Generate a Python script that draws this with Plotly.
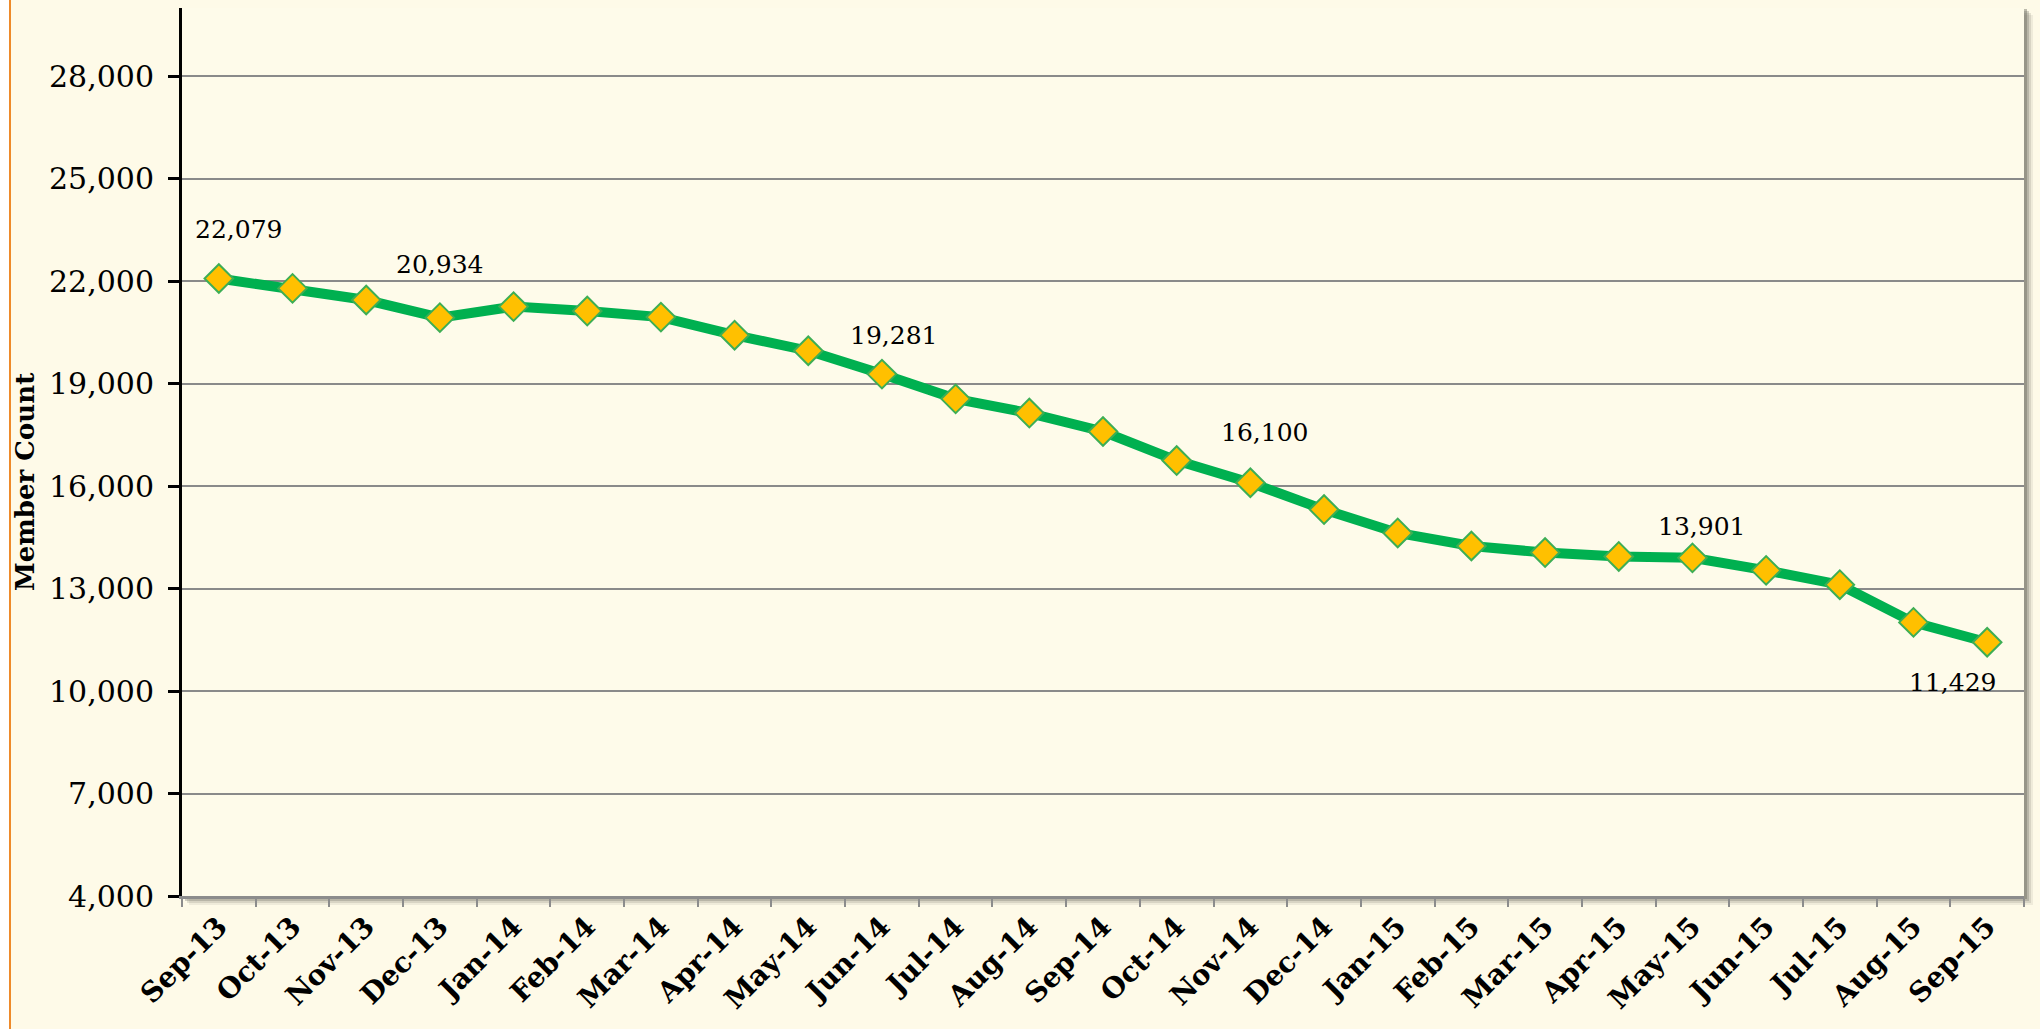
import plotly.graph_objects as go

months = ["Sep-13", "Oct-13", "Nov-13", "Dec-13", "Jan-14", "Feb-14", "Mar-14", "Apr-14",
          "May-14", "Jun-14", "Jul-14", "Aug-14", "Sep-14", "Oct-14", "Nov-14", "Dec-14",
          "Jan-15", "Feb-15", "Mar-15", "Apr-15", "May-15", "Jun-15", "Jul-15", "Aug-15", "Sep-15"]
members = [22079, 21790, 21450, 20934, 21257, 21127, 20950, 20420,
           19965, 19281, 18556, 18140, 17600, 16750, 16100, 15314,
           14630, 14247, 14056, 13942, 13901, 13535, 13115, 12011, 11429]
y_ticks = [4000, 7000, 10000, 13000, 16000, 19000, 22000, 25000, 28000]
y_title = "Member Count"
labeled_idx = [0, 3, 9, 14, 20, 24]
label_shift = [(20, 49), (0, 53), (12, 39), (14, 50), (9, 31), (-35, -40)]

W_PX, H_PX = 2040, 1029
M_L, M_R, M_T, M_B = 182, 16, 8, 133
PW = W_PX - M_L - M_R
PH = H_PX - M_T - M_B

CREAM = "#FEFAE8"
PLOT_BG = "#FEFBEA"
GREEN = "#00B050"
GOLD = "#FFC000"

fig = go.Figure()
fig.add_trace(go.Scatter(
    x=months, y=members, mode="lines+markers",
    line=dict(color=GREEN, width=10),
    marker=dict(symbol="diamond", size=22, color=GOLD, line=dict(color="#3DAE55", width=2)),
    hoverinfo="skip", showlegend=False,
))

for (i, (dx, dy)) in zip(labeled_idx, label_shift):
    fig.add_annotation(x=months[i], y=members[i], xref="x", yref="y",
                       text=f"{members[i]:,}", showarrow=False,
                       xshift=dx, yshift=dy,
                       font=dict(family="DejaVu Serif", size=25, color="#000000"))

def px_x(p):
    return p / PW

def px_y(p):
    return p / PH

# y-axis title placed like the original (slightly below the plot centre)
fig.add_annotation(xref="paper", yref="paper", x=px_x(25 - M_L), y=px_y(896 - 482),
                   text=f"<b>{y_title}</b>", textangle=-90, showarrow=False,
                   xanchor="center", yanchor="middle",
                   font=dict(family="DejaVu Serif", size=26, color="#000000"))

shapes = []
# white strip at far left and orange border line
shapes.append(dict(type="rect", xref="paper", yref="paper", layer="below",
                   x0=px_x(-M_L - 5), x1=px_x(-M_L + 9), y0=px_y(-M_B - 5), y1=px_y(PH + M_T + 5),
                   fillcolor="#FFFFFF", line=dict(width=0)))
shapes.append(dict(type="rect", xref="paper", yref="paper", layer="below",
                   x0=px_x(-M_L + 9), x1=px_x(-M_L + 11), y0=px_y(-M_B - 5), y1=px_y(PH + M_T + 5),
                   fillcolor="#EE8A2A", line=dict(width=0)))
# soft shadow for plot area
for off, op in [(9, 0.10), (7, 0.18), (5, 0.30), (3, 0.45)]:
    shapes.append(dict(type="rect", xref="paper", yref="paper", layer="below",
                       x0=px_x(off - 2), x1=px_x(PW + off), y0=px_y(-off), y1=px_y(PH - off + 2),
                       fillcolor=f"rgba(110,110,100,{op})", line=dict(width=0)))
shapes.append(dict(type="rect", xref="paper", yref="paper", layer="below",
                   x0=0, x1=1, y0=0, y1=1, fillcolor=PLOT_BG, line=dict(width=0)))
fig.update_layout(shapes=shapes)

fig.update_layout(
    width=W_PX, height=H_PX,
    margin=dict(l=M_L, r=M_R, t=M_T, b=M_B, autoexpand=False),
    paper_bgcolor=CREAM, plot_bgcolor=PLOT_BG,
    hovermode=False,
    xaxis=dict(
        type="category", range=[-0.5, len(months) - 0.5],
        showline=True, linecolor="#8C8C8C", linewidth=3,
        ticks="outside", tickson="boundaries", ticklen=8, tickwidth=2, tickcolor="#8C8C8C",
        tickangle=-45, showgrid=False, zeroline=False,
        tickfont=dict(family="DejaVu Serif", size=28, color="#000000", weight="bold"),
    ),
    yaxis=dict(
        range=[4000, 30000], tickvals=y_ticks, tickformat=",d",
        showline=True, linecolor="#000000", linewidth=3,
        ticks="outside", ticklen=11, tickwidth=3, tickcolor="#000000",
        showgrid=True, gridcolor="#8A8A8A", gridwidth=2, zeroline=False,
        tickfont=dict(family="DejaVu Serif", size=30, color="#000000"),
        ticklabelstandoff=8,
    ),
)

fig.write_html("out.html", config={"displayModeBar": False},
               post_script="document.body.style.margin='0';document.body.style.overflow='hidden';")
